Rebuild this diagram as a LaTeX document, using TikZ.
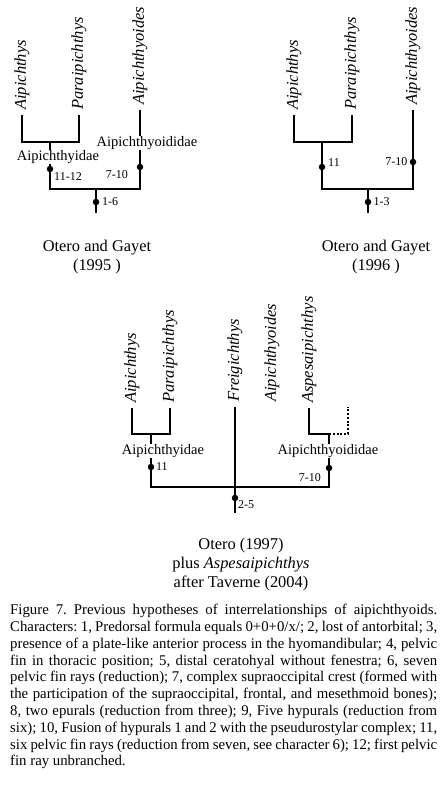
\documentclass[tikz,border=0pt]{standalone}
\usepackage{fontspec}
\setmainfont{Liberation Serif}
\usetikzlibrary{positioning}
\newcommand{\taxsize}{\fontsize{16.5}{19}\selectfont}
\newcommand{\cladesize}{\fontsize{14.5}{16}\selectfont}
\newcommand{\numsize}{\fontsize{12}{14}\selectfont}
\newcommand{\srcsize}{\fontsize{16.4}{18.5}\selectfont}
\newcommand{\capsize}{\fontsize{14.8}{16.8}\selectfont\frenchspacing}
\newcommand{\capline}[1]{\makebox[427pt][s]{#1}}
\tikzset{
  branch/.style  = {line width=2pt},
  taxon/.style   = {rotate=90, anchor=west, inner xsep=5pt, inner ysep=0pt,
                    font=\taxsize\itshape},
  clade/.style   = {fill=white, inner xsep=1pt, inner ysep=0.5pt, font=\cladesize},
  charpt/.style  = {fill, circle, inner sep=0pt, minimum size=6.5pt},
  charnum/.style = {inner sep=0pt, font=\numsize},
  source/.style  = {align=center, font=\srcsize},
}

\begin{document}
\begin{tikzpicture}[x=1pt,y=-1pt]
\useasboundingbox (0,0) rectangle (445,785);
% Otero and Gayet (1995)
\node[taxon] (aip1) at (22,115) {Aipichthys};
\node[taxon] (par1) at (79,115) {Paraipichthys};
\node[taxon] (aoi1) at (140,110) {Aipichthyoides};
\coordinate (k1a) at (50,142);
\coordinate (k1r) at (96,189);
\coordinate (base1) at (96,213);
\draw[branch] (aip1.west) |- (k1a) -| (par1.west);
\draw[branch] (k1a) |- (k1r) -| (aoi1.west);
\draw[branch] (k1r) -- (base1);
\node[clade] (fam1a) at (58,157) {Aipichthyidae};
\node[clade] (fam1b) at (147,143) {Aipichthyoididae};
\node[charpt] (p1a) at (50,169) {};
\node[charpt] (p1b) at (140,167) {};
\node[charpt] (p1c) at (96,202) {};
\node[charnum, anchor=west] (n1a) at (54,177) {11-12};
\node[charnum, anchor=east] (n1b) at (128,175) {7-10};
\node[charnum, right=2.5pt of p1c] (n1c) {1-6};
\node[source] (src1) at (97,257) {Otero and Gayet\\(1995 )};

% Otero and Gayet (1996)
\node[taxon] (aip2) at (294,115) {Aipichthys};
\node[taxon] (par2) at (352,115) {Paraipichthys};
\node[taxon] (aoi2) at (413,110) {Aipichthyoides};
\coordinate (k2a) at (322,142);
\coordinate (k2r) at (368,189);
\coordinate (base2) at (368,213);
\draw[branch] (aip2.west) |- (k2a) -| (par2.west);
\draw[branch] (k2a) |- (k2r) -| (aoi2.west);
\draw[branch] (k2r) -- (base2);
\node[charpt] (p2a) at (322,167) {};
\node[charpt] (p2b) at (413,162) {};
\node[charpt] (p2c) at (368,202) {};
\node[charnum, anchor=west] (n2a) at (328,163) {11};
\node[charnum, left=2pt of p2b] (n2b) {7-10};
\node[charnum, right=2pt of p2c] (n2c) {1-3};
\node[source] (src2) at (376,257) {Otero and Gayet\\(1996 )};

% Otero (1997) plus Aspesaipichthys
\node[taxon] (aip3) at (132,408) {Aipichthys};
\node[taxon] (par3) at (170,408) {Paraipichthys};
\node[taxon] (fre3) at (235,407) {Freigichthys};
\node[taxon] (aoi3) at (272,407) {Aipichthyoides};
\node[taxon] (asp3) at (309,408) {Aspesaipichthys};
\coordinate (k3a) at (151,434);
\coordinate (k3b) at (329,434);
\coordinate (k3r) at (235,487);
\coordinate (tip3) at (348,407);
\coordinate (base3) at (235,513);
\draw[branch] (aip3.west) |- (k3a) -| (par3.west);
\draw[branch] (asp3.west) |- (k3b);
\draw[branch, dash pattern=on 2pt off 1.8pt] (k3b) -| (tip3);
\draw[branch] (k3a) |- (k3r) -| (k3b);
\draw[branch] (fre3.west) -- (base3);
\node[clade] (fam3a) at (163,451) {Aipichthyidae};
\node[clade] (fam3b) at (328,451) {Aipichthyoididae};
\node[charpt] (p3a) at (151,467) {};
\node[charpt] (p3b) at (329,468) {};
\node[charpt] (p3c) at (235,498) {};
\node[charnum, right=1.5pt of p3a] (n3a) {11};
\node[charnum, anchor=east] (n3b) at (321,478) {7-10};
\node[charnum, anchor=west] (n3c) at (238,505) {2-5};
\node[source, font=\fontsize{16.4}{19}\selectfont] (src3) at (241,565)
  {Otero (1997)\\plus \textit{Aspesaipichthys}\\after Taverne (2004)};

% figure caption
\node[anchor=north west, inner sep=0pt, align=left, font=\capsize] (caption) at (10,604)
  {\capline{Figure 7. Previous hypotheses of interrelationships of aipichthyoids.}\\
   \capline{Characters: 1, Predorsal formula equals 0+0+0/x/; 2, lost of antorbital; 3,}\\
   \capline{presence of a plate-like anterior process in the hyomandibular; 4, pelvic}\\
   \capline{fin in thoracic position; 5, distal ceratohyal without fenestra; 6, seven}\\
   \capline{pelvic fin rays (reduction); 7, complex supraoccipital crest (formed with}\\
   \capline{the participation of the supraoccipital, frontal, and mesethmoid bones);}\\
   \capline{8, two epurals (reduction from three); 9, Five hypurals (reduction from}\\
   \capline{six); 10, Fusion of hypurals 1 and 2 with the pseudurostylar complex; 11,}\\
   \capline{six pelvic fin rays (reduction from seven, see character 6); 12; first pelvic}\\
   fin ray unbranched.};
\end{tikzpicture}
\end{document}
